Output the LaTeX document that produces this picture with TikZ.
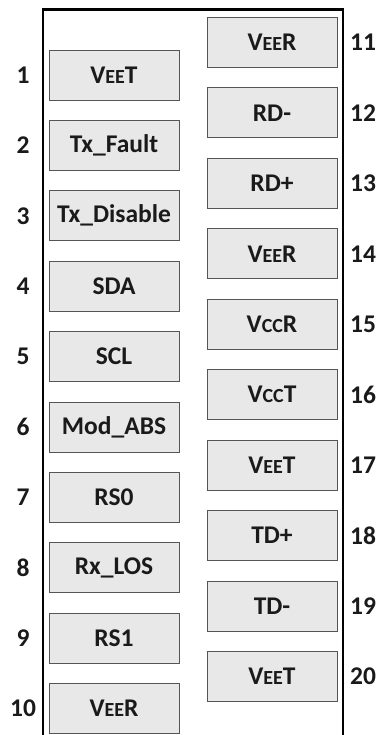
\documentclass[tikz,border=0pt]{standalone}
\usepackage{fontspec}
\setmainfont{Carlito}
\usepackage{tikz}
\usetikzlibrary{positioning}
\usepackage{xcolor}
\definecolor{PinFill}{HTML}{E8E8E8}
\definecolor{PinEdge}{HTML}{555555}
\definecolor{Ink}{HTML}{1A1A1A}
\newcommand{\sm}[1]{{\fontsize{20pt}{20pt}\selectfont #1}}

\tikzset{
  pinbox/.style={draw=PinEdge,line width=0.9pt,fill=PinFill,minimum width=130pt,minimum height=50pt,
    inner sep=0pt,text=Ink,font=\fontsize{25.5pt}{25.5pt}\selectfont\bfseries},
  pinnum/.style={text=Ink,inner sep=0pt,font=\fontsize{25.5pt}{25.5pt}\selectfont\bfseries}
}

\begin{document}
\begin{tikzpicture}[x=1pt,y=-1pt]
  \useasboundingbox (0,0) rectangle (378,735);
  % connector outline, open at the bottom
  \draw[line width=2.2pt] (43,735) -- (43,9.5) -- (343,9.5) -- (343,735);
  % left row, pins 1-10
  \foreach \i/\t in {1/V\sm{EE}T,2/Tx\_Fault,3/Tx\_Disable,4/SDA,5/SCL,6/Mod\_ABS,7/RS0,8/Rx\_LOS,9/RS1,10/V\sm{EE}R}{
    \node[pinbox] (pin\i) at (114,{75+(\i-1)*70.4}) {\t};
    \node[pinnum] (num\i) at (23,{75+(\i-1)*70.4}) {\i};
  }
  % right row, pins 11-20
  \foreach \i/\t in {11/V\sm{EE}R,12/RD-,13/RD+,14/V\sm{EE}R,15/V\sm{CC}R,16/V\sm{CC}T,17/V\sm{EE}T,18/TD+,19/TD-,20/V\sm{EE}T}{
    \node[pinbox] (pin\i) at (272,{42.5+(\i-11)*70.45}) {\t};
    \node[pinnum] (num\i) at (363,{42.5+(\i-11)*70.45}) {\i};
  }
\end{tikzpicture}
\end{document}
